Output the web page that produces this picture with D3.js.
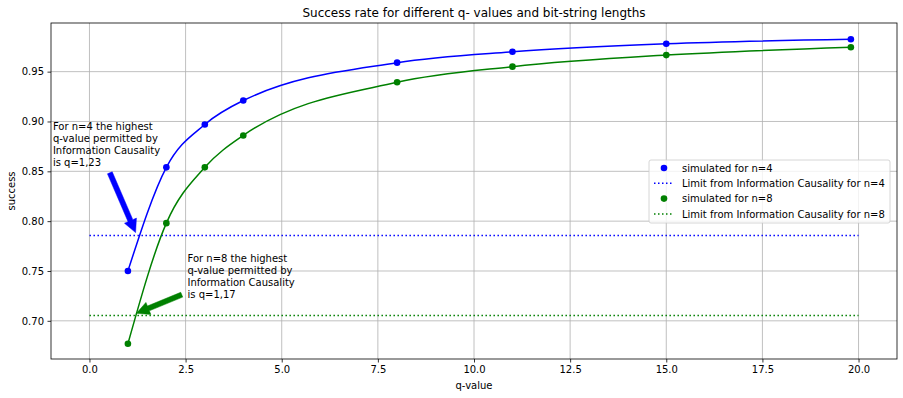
<!DOCTYPE html>
<html>
<head>
<meta charset="utf-8">
<script src="https://cdn.jsdelivr.net/npm/d3@7"></script>
<style>
  body { margin: 0; background: #fff; }
  svg { font-family: "DejaVu Sans", sans-serif; }
</style>
</head>
<body>
<svg id="chart" width="903" height="398"></svg>
<script>
// data
const qValues = [1, 2, 3, 4, 8, 11, 15, 19.8];
const successN4 = [0.750, 0.854, 0.897, 0.921, 0.959, 0.970, 0.978, 0.9825];
const successN8 = [0.677, 0.798, 0.854, 0.886, 0.9393, 0.955, 0.9666, 0.9745];
const limitN4 = 0.7856;
const limitN8 = 0.7053;
const limitRange = [0, 20];
const xTicks = [0, 2.5, 5, 7.5, 10, 12.5, 15, 17.5, 20];
const yTicks = [0.70, 0.75, 0.80, 0.85, 0.90, 0.95];
const legendLabels = ["simulated for n=4", "Limit from Information Causality for n=4",
                      "simulated for n=8", "Limit from Information Causality for n=8"];
const note4 = ["For n=4 the highest", "q-value permitted by", "Information Causality", "is q=1,23"];
const note8 = ["For n=8 the highest", "q-value permitted by", "Information Causality", "is q=1,17"];

const margin = {top: 23, right: 6, bottom: 39, left: 51};
const width = 903, height = 398;
const svg = d3.select("#chart");

const x = d3.scaleLinear().domain([-1, 21]).range([margin.left, width - margin.right]);
const y = d3.scaleLinear().domain([0.6617, 0.9988]).range([height - margin.bottom, margin.top]);

// grid
svg.append("g").selectAll("line").data(xTicks).join("line")
    .attr("x1", d => x(d)).attr("x2", d => x(d))
    .attr("y1", margin.top).attr("y2", height - margin.bottom)
    .attr("stroke", "#b0b0b0").attr("stroke-width", 0.8);
svg.append("g").selectAll("line").data(yTicks).join("line")
    .attr("y1", d => y(d)).attr("y2", d => y(d))
    .attr("x1", margin.left).attr("x2", width - margin.right)
    .attr("stroke", "#b0b0b0").attr("stroke-width", 0.8);

// limit lines
svg.append("line")
    .attr("x1", x(limitRange[0])).attr("x2", x(limitRange[1]))
    .attr("y1", y(limitN4)).attr("y2", y(limitN4))
    .attr("stroke", "blue").attr("stroke-width", 1.5).attr("stroke-dasharray", "1.5,2.5");
svg.append("line")
    .attr("x1", x(limitRange[0])).attr("x2", x(limitRange[1]))
    .attr("y1", y(limitN8)).attr("y2", y(limitN8))
    .attr("stroke", "green").attr("stroke-width", 1.5).attr("stroke-dasharray", "1.5,2.5");

const line = d3.line()
    .x(d => x(d[0]))
    .y(d => y(d[1]))
    .curve(d3.curveMonotoneX);

function series(vals, color) {
    const pts = qValues.map((q, i) => [q, vals[i]]);
    svg.append("path")
        .attr("fill", "none")
        .attr("stroke", color)
        .attr("stroke-width", 1.5)
        .attr("d", line(pts));
    svg.append("g").selectAll("circle").data(pts).join("circle")
        .attr("cx", d => x(d[0])).attr("cy", d => y(d[1]))
        .attr("r", 3.3).attr("fill", color);
}
series(successN4, "blue");
series(successN8, "green");

// arrows
function arrow(from, to, color) {
    const x0 = x(from[0]), y0 = y(from[1]), x1 = x(to[0]), y1 = y(to[1]);
    const len = Math.hypot(x1 - x0, y1 - y0);
    const ux = (x1 - x0) / len, uy = (y1 - y0) / len;
    const px = -uy, py = ux;
    const sw = 2.6, hw = 6.5, hl = 13;
    const bx = x1 - ux * hl, by = y1 - uy * hl;
    const pts = [
        [x0 + px * sw, y0 + py * sw],
        [bx + px * sw, by + py * sw],
        [bx + px * hw, by + py * hw],
        [x1, y1],
        [bx - px * hw, by - py * hw],
        [bx - px * sw, by - py * sw],
        [x0 - px * sw, y0 - py * sw]
    ];
    svg.append("polygon").attr("points", pts.map(p => p.join(",")).join(" "))
        .attr("fill", color).attr("stroke", color).attr("stroke-width", 0.5);
}
arrow([0.53, 0.8485], [1.20, 0.7885], "blue");
arrow([2.40, 0.7262], [1.22, 0.7075], "green");

function note(lines, px, py) {
    const t = svg.append("text").attr("font-size", 10).attr("fill", "#000");
    lines.forEach((s, i) => {
        t.append("tspan").attr("x", x(px)).attr("y", y(py) + i * 12).text(s);
    });
}
note(note4, -0.95, 0.891);
note(note8, 2.55, 0.7595);

// axes
const xAxis = svg.append("g")
    .attr("transform", `translate(0,${height - margin.bottom})`)
    .call(d3.axisBottom(x).tickValues(xTicks).tickFormat(d3.format(".1f")).tickSizeOuter(0).tickSize(3.5).tickPadding(3.5));
const yAxis = svg.append("g")
    .attr("transform", `translate(${margin.left},0)`)
    .call(d3.axisLeft(y).tickValues(yTicks).tickFormat(d3.format(".2f")).tickSizeOuter(0).tickSize(3.5).tickPadding(3.5));
[xAxis, yAxis].forEach(g => {
    g.select(".domain").remove();
    g.selectAll("text").attr("font-size", 10).attr("font-family", "DejaVu Sans").attr("fill", "#000");
    g.selectAll("line").attr("stroke", "#000").attr("stroke-width", 0.8);
});

// frame
svg.append("rect")
    .attr("x", margin.left).attr("y", margin.top)
    .attr("width", width - margin.left - margin.right)
    .attr("height", height - margin.top - margin.bottom)
    .attr("fill", "none").attr("stroke", "#000").attr("stroke-width", 0.8);

// labels
svg.append("text")
    .attr("x", (margin.left + width - margin.right) / 2).attr("y", 17)
    .attr("text-anchor", "middle").attr("font-size", 12)
    .text("Success rate for different q- values and bit-string lengths");
svg.append("text")
    .attr("x", (margin.left + width - margin.right) / 2).attr("y", 389)
    .attr("text-anchor", "middle").attr("font-size", 10)
    .text("q-value");
svg.append("text")
    .attr("transform", `translate(15,${(margin.top + height - margin.bottom) / 2}) rotate(-90)`)
    .attr("text-anchor", "middle").attr("font-size", 10)
    .text("success");

// legend
const lg = svg.append("g").attr("transform", "translate(649,160)");
lg.append("rect").attr("width", 241).attr("height", 63).attr("rx", 2)
    .attr("fill", "#fff").attr("fill-opacity", 0.8)
    .attr("stroke", "#cccccc").attr("stroke-width", 0.8);
const legendColors = ["blue", "blue", "green", "green"];
legendLabels.forEach((s, i) => {
    const cy = 8 + i * 15.3;
    if (i % 2 === 0) {
        lg.append("circle").attr("cx", 15).attr("cy", cy).attr("r", 3.3).attr("fill", legendColors[i]);
    } else {
        lg.append("line").attr("x1", 5).attr("x2", 25).attr("y1", cy).attr("y2", cy)
            .attr("stroke", legendColors[i]).attr("stroke-width", 1.5).attr("stroke-dasharray", "1.5,2.5");
    }
    lg.append("text").attr("x", 33).attr("y", cy + 3.6).attr("font-size", 10).text(s);
});
</script>
</body>
</html>
